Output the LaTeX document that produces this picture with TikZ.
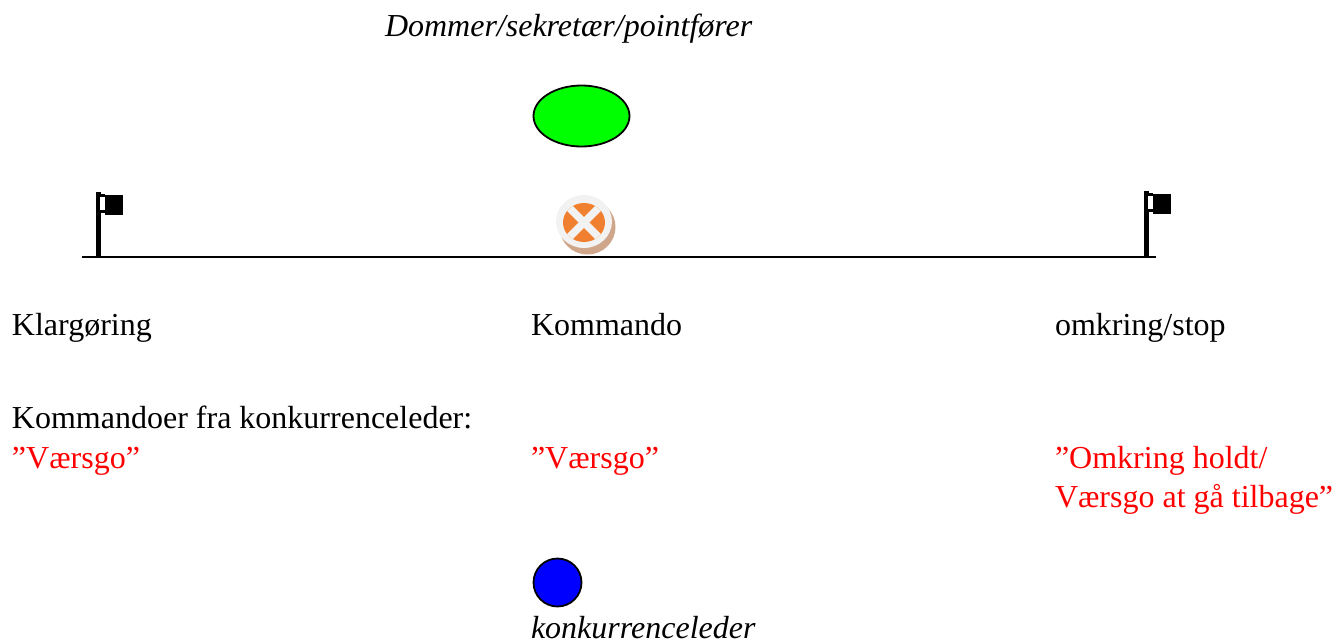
\documentclass[tikz,border=0pt]{standalone}
\usepackage{fontspec}
\usetikzlibrary{shapes.geometric}
\setmainfont{Liberation Serif}
\definecolor{tokenorange}{HTML}{F08030}
\definecolor{tokenwhite}{HTML}{F2F2F2}
\definecolor{tokenshadow}{HTML}{CFA68A}
\definecolor{redtext}{HTML}{FF0000}
\definecolor{personblue}{HTML}{0000FF}
\definecolor{persongreen}{HTML}{00FF00}
\tikzset{
  px/.style={x=1pt,y=-1pt},
  lbl/.style={anchor=base west,inner sep=0pt,outer sep=0pt,font=\fontsize{32}{37}\selectfont},
  cmd/.style={lbl,text=redtext},
  person/.style={draw=black,line width=1.8pt,inner sep=0pt},
  baseline rule/.style={draw=black,line width=2pt},
}
\newcommand{\flagat}[1]{%
  \begin{scope}[shift={(#1)}]
    \fill[black] (0,-65) rectangle (4.6,0);
    \fill[black] (0,-63) rectangle (9,-44);
    \fill[black] (9,-62) rectangle (27,-42);
    \fill[white] (4.4,-60) rectangle (9,-47);
  \end{scope}}
\begin{document}
\begin{tikzpicture}[px]
\useasboundingbox (0,0) rectangle (1342,643);
\node[lbl] (judge) at (385,36) {\itshape Dommer/sekretær/pointfører};
\node[person,ellipse,fill=persongreen,minimum width=96pt,minimum height=61pt] (green) at (581.5,116) {};
\coordinate (lineL) at (82,257);
\coordinate (lineR) at (1156,257);
\draw[baseline rule] (lineL) -- (lineR);
\flagat{96,257}
\flagat{1144,256}
\fill[tokenshadow] (587.5,227) circle (28 and 27.5);
\fill[tokenwhite] (584,221.5) circle (28 and 26.5);
\begin{scope}
  \clip (584,222.5) circle (21 and 19.5);
  \fill[tokenorange] (560,198) rectangle (608,246);
  \draw[tokenwhite,line width=7.5pt] (562,200.5) -- (606,244.5);
  \draw[tokenwhite,line width=7.5pt] (606,200.5) -- (562,244.5);
\end{scope}
\node[lbl] (klar) at (12,335) {Klargøring};
\node[lbl] (komm) at (531,335) {Kommando};
\node[lbl] (stop) at (1055,335) {omkring/stop};
\node[lbl] (intro) at (12,428) {Kommandoer fra konkurrenceleder:};
\node[cmd] (c1) at (12,468) {”Værsgo”};
\node[cmd] (c2) at (531,468) {”Værsgo”};
\node[cmd] (c3) at (1055,468) {”Omkring holdt/};
\node[cmd] (c4) at (1055,507) {Værsgo at gå tilbage”};
\node[person,circle,fill=personblue,minimum size=48pt] (blue) at (557.5,582.5) {};
\node[lbl] (leader) at (531,638) {\itshape konkurrenceleder};
\end{tikzpicture}
\end{document}
